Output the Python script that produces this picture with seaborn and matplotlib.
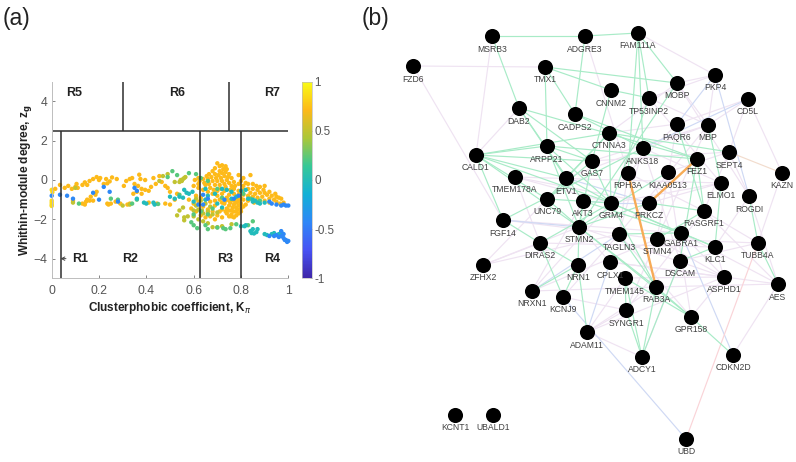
import matplotlib
matplotlib.use("Agg")
import matplotlib.pyplot as plt
import seaborn as sns
import pandas as pd
from matplotlib.cm import ScalarMappable
from matplotlib.colors import LinearSegmentedColormap, Normalize

sns.set_style("white")
plt.rcParams["font.family"] = ["Liberation Sans", "DejaVu Sans"]

# panel (a): points, grouped by colour value
yellow_pts = [(0, -1.05), (0, -1.15), (0, -1.25), (0, -1.32), (0, -0.5), (0.003, -0.62)]
orange_pts = [
    (0.015, -0.45), (0.035, -0.25), (0.055, -0.4), (0.07, -0.3), (0.085, -0.45), (0.1, -0.35),
    (0.11, -0.4), (0.105, -0.2), (0.13, -0.25), (0.14, -0.12), (0.15, -0.25), (0.16, -0.05),
    (0.175, 0.05), (0.19, 0.15), (0.2, 0), (0.205, 0.1), (0.22, -0.2), (0.23, 0.05),
    (0.245, -0.07), (0.235, -0.17), (0.255, 0.13), (0.275, 0.05), (0.305, -0.3), (0.315, -0.05),
    (0.33, 0.05), (0.34, 0.1), (0.35, -0.2), (0.37, 0.27), (0.375, 0.05), (0.365, -0.3),
    (0.38, -0.45), (0.395, 0), (0.41, -0.55), (0.42, -0.35), (0.43, 0.1), (0.44, -0.2),
    (0.455, 0.2), (0.465, -0.1), (0.48, -0.3), (0.49, -0.4), (0.5, -0.6),
    (0.09, -1.05), (0.13, -1.2), (0.14, -1.25), (0.145, -1.1), (0.15, -1.0), (0.16, -1.05),
    (0.165, -0.85), (0.175, -1.05), (0.185, -0.75), (0.19, -0.6), (0.235, -1.2), (0.24, -1.25),
    (0.25, -1.2), (0.27, -1.1), (0.29, -1.2), (0.32, -1.25), (0.33, -1.2), (0.345, -0.7),
    (0.36, -0.6), (0.38, -0.7), (0.395, -0.5), (0.41, -1.15), (0.445, -1.2), (0.48, -1.2),
    (0.5, -1.25), (0.52, -1.0), (0.53, -0.7),
    (0.7, 0.85), (0.71, 0.7), (0.69, 0.6), (0.72, 0.75), (0.735, 0.7), (0.74, 0.55),
    (0.725, 0.55), (0.71, 0.45), (0.68, 0.45), (0.665, 0.3), (0.69, 0.3), (0.705, 0.25),
    (0.72, 0.35), (0.735, 0.4), (0.75, 0.3), (0.745, 0.15), (0.73, 0.2), (0.715, 0.1),
    (0.695, 0.1), (0.675, 0.15), (0.655, 0.2), (0.64, 0.05), (0.66, 0.05), (0.68, -0.05),
    (0.7, -0.05), (0.72, -0.05), (0.74, 0), (0.76, 0.1), (0.62, 0.1), (0.605, 0),
    (0.625, -0.05), (0.645, -0.15), (0.665, -0.2), (0.69, -0.25), (0.71, -0.25), (0.73, -0.2),
    (0.75, -0.15), (0.77, -0.1), (0.79, 0.25), (0.81, 0.1), (0.8, -0.05), (0.82, -0.15),
    (0.84, 0.25), (0.79, -0.2), (0.81, -0.3), (0.83, -0.2), (0.85, -0.2), (0.865, -0.3),
    (0.88, -0.35), (0.9, -0.3), (0.895, -0.5), (0.87, -0.5), (0.85, -0.45), (0.83, -0.45),
    (0.81, -0.5), (0.79, -0.55), (0.77, -0.45), (0.76, -0.3), (0.84, -0.65), (0.86, -0.7),
    (0.88, -0.65), (0.9, -0.65), (0.92, -0.6), (0.91, -0.75), (0.93, -0.8), (0.945, -0.7),
    (0.95, -0.85), (0.96, -0.9), (0.97, -0.95), (0.92, -0.95), (0.94, -1), (0.89, -0.85),
    (0.87, -0.9), (0.85, -0.85), (0.83, -0.8), (0.81, -0.75), (0.79, -0.75), (0.9, -1.05),
    (0.875, -1.1), (0.855, -1.15), (0.83, -1.05), (0.81, -1.0), (0.79, -1), (0.77, -0.7),
    (0.95, -1.1), (0.98, -1.15), (0.92, -1.15), (0.965, -1.2),
    (0.78, -1.15), (0.8, -1.2), (0.82, -1.25), (0.76, -1), (0.74, -0.9), (0.78, -1.4),
    (0.8, -1.45), (0.77, -1.6), (0.79, -1.7), (0.75, -1.3), (0.76, -1.55), (0.74, -1.7),
    (0.78, -1.8), (0.77, -1.9), (0.72, -1.5), (0.73, -1.2), (0.71, -1.0), (0.7, -0.8),
    (0.72, -0.7), (0.68, -0.7), (0.66, -0.6), (0.64, -0.5), (0.62, -0.4), (0.6, -0.3),
    (0.61, -0.8), (0.63, -0.9), (0.65, -1), (0.67, -1.1), (0.69, -1.3), (0.71, -1.6),
    (0.7, -1.8), (0.68, -1.6), (0.66, -1.5), (0.64, -1.35), (0.62, -1.1), (0.6, -1.2),
    (0.58, -1), (0.59, -1.45), (0.61, -1.6), (0.63, -1.8), (0.65, -1.9), (0.67, -1.85),
    (0.69, -2.0), (0.66, -1.7), (0.72, -1.9), (0.75, -1.85), (0.8, -0.95), (0.8, -1.6),
    (0.78, -1.6), (0.76, -1.75), (0.74, -1.45), (0.755, -1.15), (0.77, -1.25), (0.735, -1.05),
    (0.81, -1.35), (0.79, -1.3), (0.77, -1.05), (0.75, -0.75), (0.73, -0.55), (0.7, -0.55),
    (0.67, -0.4), (0.65, -0.25), (0.62, -0.2), (0.75, -1.55), (0.72, -1.15), (0.69, -1.05),
    (0.775, -0.3), (0.755, -0.5), (0.735, -0.35), (0.715, -0.45), (0.685, -0.5), (0.785, -0.95),
    (0.765, -1.4), (0.785, -1.5), (0.75, -1.05), (0.735, -1.6), (0.76, -1.85), (0.79, -1.1),
]
olive_pts = [
    (0.09, -1.15), (0.1, -0.4), (0.3, -1.3), (0.33, -1.25), (0.455, -0.05), (0.47, 0.2),
    (0.49, 0.3), (0.52, -0.1), (0.54, -0.1), (0.545, 0), (0.555, 0.05), (0.56, 0.1),
    (0.565, 0.15), (0.55, -0.05), (0.53, -1.8), (0.54, -1.55), (0.555, -1.4), (0.56, -1.9),
    (0.575, -1.85), (0.56, -2.05), (0.6, -1.55), (0.62, -1.5), (0.64, -1.7), (0.66, -1.6),
    (0.68, -1.75), (0.7, -1.65), (0.62, -2.0), (0.64, -2.1), (0.72, -2.35), (0.7, -2.4),
    (0.68, -2.4), (0.66, -2.2), (0.65, -1.2), (0.63, -1.05), (0.61, -0.95), (0.61, -1.3),
    (0.67, -1.35), (0.76, -2.25), (0.6, -1.85), (0.635, -1.55),
]
green_pts = [
    (0.51, 0.45), (0.58, 0.35), (0.49, 0.15), (0.53, 0.25), (0.115, -1.2), (0.25, -0.95),
    (0.28, -1.0), (0.34, -1.2), (0.36, -1.0), (0.59, -2.15), (0.6, -2.3), (0.615, -2.45),
    (0.65, -2.3), (0.66, -2.5), (0.7, -2.42), (0.725, -2.45), (0.735, -2.5), (0.755, -2.45),
    (0.78, -2.25), (0.83, -2.3), (0.85, -2.1), (0.61, 0.3), (0.63, 0.1), (0.66, -0.05),
    (0.7, -0.45), (0.72, -0.9), (0.68, -1.45), (0.66, -1.75), (0.6, -1.75), (0.63, -1.6),
    (0.81, -0.7), (0.84, -0.95), (0.88, -1.05), (0.54, -0.75), (0.45, -1.22),
]
teal_pts = [
    (0.36, -0.95), (0.39, -1.15), (0.4, -1.2), (0.43, -1.15), (0.435, -1.25), (0.5, -0.85),
    (0.52, -0.95), (0.54, -0.85), (0.555, -0.9), (0.57, -0.65), (0.595, -0.6),
    (0.8, -2.35), (0.815, -2.35), (0.82, -2.3), (0.84, -2.6), (0.845, -2.7), (0.855, -2.72),
    (0.865, -2.65), (0.87, -2.5), (0.85, -2.5), (0.72, -0.45), (0.74, -0.5), (0.76, -0.6),
    (0.8, -0.55), (0.82, -0.5), (0.56, -0.5), (0.58, -0.7), (0.6, -1.1), (0.65, -0.45),
    (0.66, -0.8), (0.65, -1.0), (0.69, -0.7), (0.78, -0.85), (0.76, -0.95), (0.7, -1.2),
    (0.72, -1.4), (0.83, -0.95), (0.85, -1.0), (0.86, -1.05), (0.87, -1.15), (0.85, -1.1),
    (0.88, -1.2), (0.9, -1.15), (0.9, -2.75), (0.91, -2.8), (0.93, -2.75), (0.94, -2.7),
    (0.96, -2.75), (0.97, -2.65),
]
blue_pts = [
    (0, -0.8), (0.035, -0.75), (0.065, -0.8), (0.09, -0.95), (0.175, -0.65), (0.2, -1.0),
    (0.245, -0.6), (0.28, -1.1), (0.35, -0.4), (0.36, -0.55), (0.22, -0.35),
    (0.62, -1.25), (0.64, -1.25), (0.92, -2.85), (0.94, -2.85), (0.95, -2.8), (0.96, -2.9),
    (0.97, -2.6), (0.98, -2.75), (0.98, -2.95), (0.99, -3.05), (0.995, -3.15), (1.0, -3.1),
    (0.985, -3.05), (0.97, -2.85), (0.92, -1.1), (0.93, -1.2), (0.95, -1.25), (0.97, -1.3),
    (0.99, -1.3), (1.0, -1.3), (0.98, -1.25), (0.64, -0.75), (0.66, -0.95), (0.77, -0.95),
    (0.79, -0.8), (0.73, -1.0),
]
groups = [
    (0.85, yellow_pts), (0.714, orange_pts), (0.5, olive_pts),
    (0.22, green_pts), (-0.02, teal_pts), (-0.42, blue_pts),
]

region_labels = ["R5", "R6", "R7", "R1", "R2", "R3", "R4"]
region_x = [0.095, 0.53, 0.93, 0.12, 0.33, 0.735, 0.93]
region_y = [4.4, 4.4, 4.4, -4, -4, -4, -4]

# panel (b): layout position of every gene, in reference pixels
genes = {
    "MSRB3": (492, 36), "ADGRE3": (585, 36), "FAM111A": (638, 33), "FZD6": (413, 66),
    "TMX1": (545, 67), "PKP4": (715, 75), "MOBP": (677, 83), "CNNM2": (611, 90),
    "TP53INP2": (649, 98), "CD5L": (748, 99), "DAB2": (519, 108), "CADPS2": (575, 114),
    "PAQR6": (677, 124), "MBP": (708, 125), "CTNNA3": (609, 133), "ARPP21": (547, 146),
    "ANKS18": (643, 148), "CALD1": (476, 155), "SEPT4": (729, 152), "FEZ1": (697, 159),
    "GAS7": (592, 161), "RPH3A": (628, 173), "KIAA0513": (668, 172), "KAZN": (782, 173),
    "TMEM178A": (515, 177), "ETV1": (566, 178), "ELMO1": (721, 183), "ROGDI": (749, 196),
    "UNC79": (547, 199), "AKT3": (583, 201), "GRM4": (611, 203), "PRKCZ": (649, 203),
    "RASGRF1": (704, 211), "FGF14": (503, 220), "STMN2": (579, 227), "TAGLN3": (619, 234),
    "GABRA1": (681, 233), "STMN4": (657, 239), "DIRAS2": (540, 243), "KLC1": (715, 247),
    "TUBB4A": (758, 243), "ZFHX2": (483, 265), "NRN1": (578, 265), "CPLX1": (610, 262),
    "DSCAM": (680, 261), "TMEM145": (625, 278), "ASPHD1": (724, 277), "AES": (778, 284),
    "RAB3A": (656, 287), "NRXN1": (532, 291), "KCNJ9": (563, 297), "SYNGR1": (626, 310),
    "GPR158": (691, 317), "ADAM11": (587, 332), "ADCY1": (642, 357), "CDKN2D": (733, 355),
    "KCNT1": (455, 415), "UBALD1": (493, 415), "UBD": (686, 439),
}
# GABRA1 label sits tighter to its node in the original
label_gap = {"GABRA1": 10}

green_edges = [
    ("MSRB3", "ADGRE3"), ("ADGRE3", "FAM111A"), ("MSRB3", "DAB2"), ("ADGRE3", "CADPS2"),
    ("FAM111A", "MOBP"), ("FAM111A", "ANKS18"), ("FAM111A", "TP53INP2"), ("FAM111A", "RPH3A"),
    ("TMX1", "MOBP"), ("TMX1", "CNNM2"), ("TMX1", "ARPP21"), ("TMX1", "CADPS2"),
    ("DAB2", "GAS7"), ("DAB2", "ETV1"), ("DAB2", "FEZ1"), ("DAB2", "AKT3"),
    ("CNNM2", "TP53INP2"), ("CNNM2", "GAS7"), ("CADPS2", "FEZ1"), ("CADPS2", "ANKS18"),
    ("CALD1", "ARPP21"), ("CALD1", "CTNNA3"), ("CALD1", "GAS7"), ("CALD1", "UNC79"),
    ("CALD1", "STMN2"), ("CALD1", "GRM4"), ("CALD1", "FGF14"), ("CALD1", "ETV1"),
    ("CTNNA3", "GRM4"), ("CTNNA3", "UNC79"), ("CTNNA3", "ETV1"), ("CTNNA3", "SEPT4"),
    ("ARPP21", "GAS7"), ("ARPP21", "GRM4"), ("ARPP21", "STMN2"), ("ARPP21", "FEZ1"),
    ("GAS7", "UNC79"), ("GAS7", "GRM4"), ("GAS7", "STMN2"), ("ETV1", "GRM4"),
    ("UNC79", "STMN2"), ("UNC79", "GRM4"), ("AKT3", "STMN2"), ("AKT3", "GABRA1"),
    ("GRM4", "GABRA1"), ("GRM4", "KLC1"), ("GRM4", "RAB3A"), ("STMN2", "RAB3A"),
    ("STMN2", "NRN1"), ("STMN2", "GPR158"), ("TAGLN3", "RAB3A"), ("TAGLN3", "GABRA1"),
    ("GABRA1", "KLC1"), ("PRKCZ", "RASGRF1"), ("PRKCZ", "STMN2"), ("FEZ1", "DSCAM"),
    ("FEZ1", "RASGRF1"), ("TP53INP2", "GRM4"), ("MOBP", "STMN2"), ("ANKS18", "FGF14"),
    ("KIAA0513", "STMN2"), ("RASGRF1", "STMN4"), ("ELMO1", "KLC1"), ("MBP", "ELMO1"),
    ("PAQR6", "RASGRF1"), ("ROGDI", "TUBB4A"), ("TUBB4A", "AES"), ("NRN1", "ADAM11"),
    ("NRN1", "DIRAS2"), ("DIRAS2", "FGF14"), ("DIRAS2", "KCNJ9"), ("DIRAS2", "GRM4"),
    ("ADCY1", "RAB3A"), ("ADCY1", "TMEM145"), ("ADCY1", "SYNGR1"), ("ADCY1", "DSCAM"),
    ("GPR158", "CDKN2D"), ("RAB3A", "GPR158"), ("TMEM145", "GPR158"), ("TMEM145", "SYNGR1"),
    ("DSCAM", "KLC1"), ("NRXN1", "NRN1"), ("KCNJ9", "NRN1"),
]
pink_edges = [
    ("FZD6", "TMX1"), ("FZD6", "FGF14"), ("MSRB3", "CALD1"), ("DAB2", "CALD1"),
    ("FAM111A", "PKP4"), ("ADGRE3", "RPH3A"), ("PKP4", "MOBP"), ("PKP4", "MBP"),
    ("PKP4", "TP53INP2"), ("CD5L", "MBP"), ("CD5L", "PAQR6"), ("CD5L", "SEPT4"),
    ("CD5L", "KAZN"), ("KAZN", "TUBB4A"), ("ROGDI", "AES"), ("ZFHX2", "DIRAS2"),
    ("ZFHX2", "STMN2"), ("ZFHX2", "UNC79"), ("ZFHX2", "TAGLN3"), ("ADAM11", "ADCY1"),
    ("ADAM11", "SYNGR1"), ("ADAM11", "RAB3A"), ("ADAM11", "TMEM145"), ("ADAM11", "ASPHD1"),
    ("CDKN2D", "AES"), ("AES", "RASGRF1"), ("AES", "GABRA1"), ("AES", "RAB3A"),
    ("TMEM178A", "GRM4"), ("TMEM178A", "DIRAS2"), ("TMEM178A", "PRKCZ"), ("FGF14", "TAGLN3"),
    ("FGF14", "GABRA1"), ("NRXN1", "STMN4"), ("NRXN1", "AKT3"), ("NRXN1", "GRM4"),
    ("NRXN1", "RAB3A"), ("KCNJ9", "SYNGR1"), ("KCNJ9", "TAGLN3"), ("ASPHD1", "GABRA1"),
    ("ASPHD1", "TMEM145"), ("ASPHD1", "STMN2"), ("ASPHD1", "GPR158"), ("ASPHD1", "KLC1"),
    ("TUBB4A", "RASGRF1"), ("TUBB4A", "STMN4"), ("TUBB4A", "DSCAM"), ("KLC1", "DIRAS2"),
    ("ELMO1", "TMEM178A"), ("ELMO1", "PRKCZ"), ("ELMO1", "GRM4"), ("MBP", "GAS7"),
    ("MBP", "ETV1"), ("MBP", "STMN4"), ("MBP", "TAGLN3"), ("PAQR6", "CTNNA3"),
    ("PAQR6", "STMN4"), ("PAQR6", "RPH3A"), ("SEPT4", "KIAA0513"), ("SEPT4", "RASGRF1"),
    ("SEPT4", "GAS7"), ("MOBP", "MBP"), ("MOBP", "CTNNA3"), ("MOBP", "ROGDI"),
    ("TP53INP2", "ELMO1"), ("TP53INP2", "MBP"), ("ANKS18", "ELMO1"), ("ANKS18", "TAGLN3"),
    ("ANKS18", "DSCAM"), ("RPH3A", "TAGLN3"), ("RPH3A", "RASGRF1"), ("STMN4", "ASPHD1"),
    ("TAGLN3", "STMN4"), ("CPLX1", "ASPHD1"), ("CPLX1", "STMN2"), ("CPLX1", "AES"),
    ("SYNGR1", "RASGRF1"), ("SYNGR1", "STMN4"), ("DSCAM", "ADCY1"), ("GPR158", "KIAA0513"),
    ("GPR158", "TAGLN3"), ("ROGDI", "KLC1"), ("ROGDI", "SEPT4"),
]
blue_edges = [
    ("KCNJ9", "UBD"), ("GABRA1", "CDKN2D"), ("AKT3", "GRM4"), ("GRM4", "PRKCZ"),
    ("ADAM11", "CPLX1"), ("PKP4", "PAQR6"), ("PKP4", "ROGDI"), ("FGF14", "STMN2"),
    ("NRXN1", "TAGLN3"), ("ETV1", "PRKCZ"), ("CD5L", "ANKS18"),
]
red_edges = [("UBD", "TUBB4A")]
orange_edges = [("RPH3A", "RAB3A"), ("FEZ1", "PRKCZ")]
tan_edges = [("SEPT4", "KAZN")]
edge_styles = [
    (pink_edges, "#efe3f2", 0.85), (blue_edges, "#cfd9f4", 0.85), (red_edges, "#fad4d8", 0.85),
    (tan_edges, "#f2dccd", 0.85), (green_edges, "#a8ebc7", 0.85), (orange_edges, "#f7ab57", 1.7),
]

parula = LinearSegmentedColormap.from_list(
    "parula",
    ["#3e26a8", "#4752f4", "#2e87f7", "#12b1d6", "#37c897", "#abc739", "#fdb91a", "#f9fb15"],
)
norm = Normalize(-1, 1)

scatter_df = pd.concat(
    [pd.DataFrame(pts, columns=["k", "z"]).assign(c=val) for val, pts in groups],
    ignore_index=True,
)
gene_df = pd.DataFrame(
    {"gene": list(genes), "x": [p[0] for p in genes.values()], "y": [p[1] for p in genes.values()]}
)

W, H = 796, 462
fig = plt.figure(figsize=(W / 100, H / 100), dpi=100)

# network sits on a full figure axes
net_ax = fig.add_axes([0, 0, 1, 1])
net_ax.set_xlim(0, W)
net_ax.set_ylim(H, 0)
net_ax.axis("off")
for edges, color, lw in edge_styles:
    for a, b in edges:
        net_ax.plot(
            [genes[a][0], genes[b][0]], [genes[a][1], genes[b][1]],
            color=color, lw=lw, solid_capstyle="round", zorder=1,
        )
sns.scatterplot(
    data=gene_df, x="x", y="y", ax=net_ax, color="black", s=118, linewidth=0, zorder=3, legend=False
)
net_ax.set_xlabel("")
net_ax.set_ylabel("")
for _, row in gene_df.iterrows():
    net_ax.text(
        row["x"], row["y"] + label_gap.get(row["gene"], 13), row["gene"], ha="center", va="center",
        fontsize=6.2, color="#404040", zorder=4,
    )
net_ax.text(3, 18, "(a)", fontsize=16.5, color="#222222", va="center")
net_ax.text(362, 18, "(b)", fontsize=16.5, color="#222222", va="center")

# panel (a)
ax = fig.add_axes([51.7 / W, 1 - 278.3 / H, 236.6 / W, 196.6 / H])
ax.patch.set_alpha(0)
sns.scatterplot(
    data=scatter_df, x="k", y="z", hue="c", hue_norm=norm, palette=parula,
    s=10, linewidth=0, ax=ax, legend=False, clip_on=False, zorder=2,
)
ax.set_xlim(0, 1)
ax.set_ylim(-5, 5)
ax.set_xticks([0, 0.2, 0.4, 0.6, 0.8, 1])
ax.set_xticklabels(["0", "0.2", "0.4", "0.6", "0.8", "1"])
ax.set_yticks([-4, -2, 0, 2, 4])
ax.tick_params(direction="in", length=2, width=0.5, colors="#555555", labelsize=8.8, left=True, bottom=True)
ax.tick_params(axis="x", pad=5)
ax.tick_params(axis="y", pad=3)
sns.despine(ax=ax)
for side in ["left", "bottom"]:
    ax.spines[side].set_color("#bdbdbd")
    ax.spines[side].set_linewidth(0.7)
ax.set_xlabel(r"Clusterphobic coefficient, K$_{\pi}$", fontsize=8.5, fontweight="bold", color="#222222", labelpad=2)
ax.set_ylabel(r"Whithin-module degree, z$_{\mathbf{g}}$", fontsize=8.6, fontweight="bold", color="#222222", labelpad=0)

line_color = "#2e2e2e"
ax.hlines(2.5, 0.005, 1, color=line_color, lw=1.1, zorder=3)
ax.vlines([0.04, 0.625, 0.8], -5, 2.5, color=line_color, lw=1.1, zorder=3)
ax.vlines([0.3, 0.75], 2.5, 5, color=line_color, lw=1.1, zorder=3)
for label, rx, ry in zip(region_labels, region_x, region_y):
    ax.text(rx, ry, label, ha="center", va="center", fontsize=9, fontweight="bold", color="#222222")
ax.annotate(
    "", xy=(0.025, -4), xytext=(0.072, -4),
    arrowprops=dict(arrowstyle="->", color="#444444", lw=0.7, mutation_scale=6),
)

cax = fig.add_axes([301.7 / W, 1 - 278.3 / H, 10 / W, 196.6 / H])
cbar = fig.colorbar(ScalarMappable(norm=norm, cmap=parula), cax=cax, ticks=[-1, -0.5, 0, 0.5, 1])
cbar.ax.set_yticklabels(["-1", "-0.5", "0", "0.5", "1"])
cbar.ax.tick_params(length=1.5, width=0.4, direction="in", colors="#555555", labelsize=8.4, pad=2)
cbar.outline.set_edgecolor("#bdbdbd")
cbar.outline.set_linewidth(0.5)

plt.savefig("out.png", dpi=100)
plt.close()
